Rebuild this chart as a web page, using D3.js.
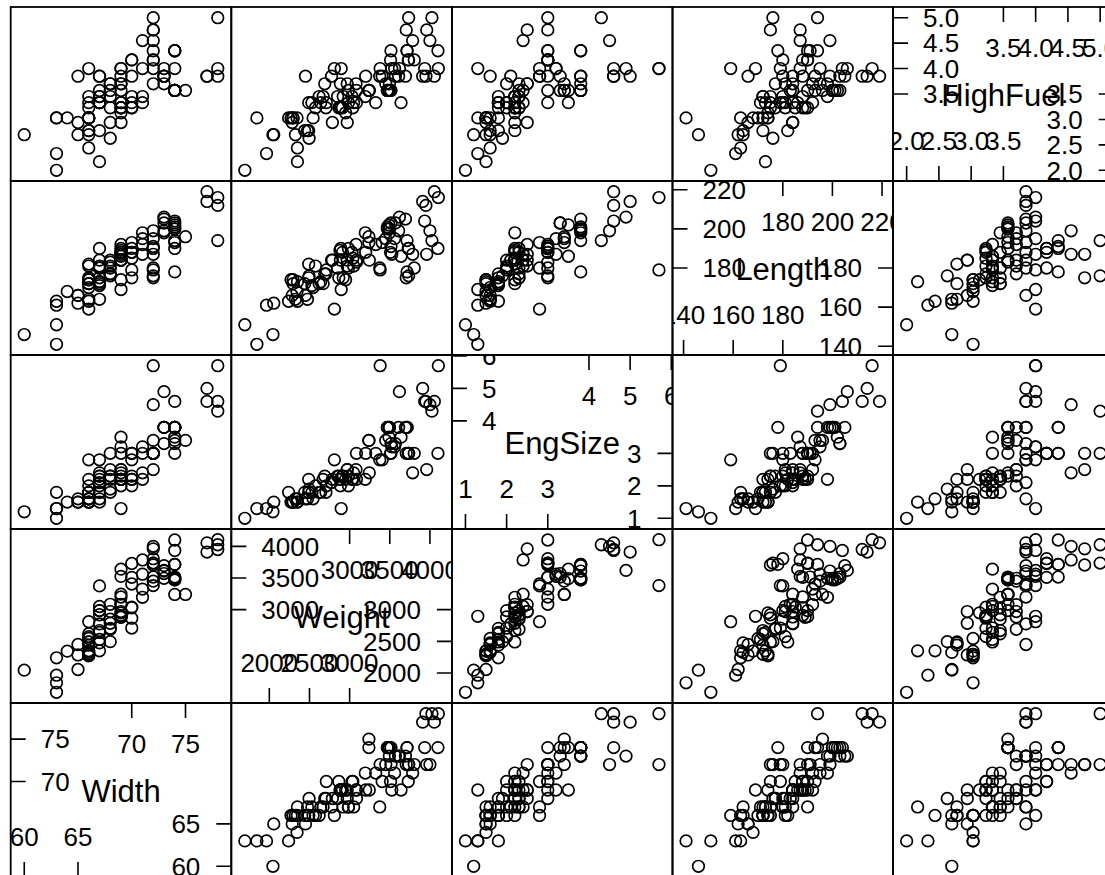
<!DOCTYPE html>
<html>
<head>
<meta charset="utf-8">
<script src="https://cdn.jsdelivr.net/npm/d3@7"></script>
<style>
  body { margin: 0; background: #fff; }
  svg { display: block; font-family: "Liberation Sans", Arial, sans-serif; }
</style>
</head>
<body>
<div id="chart"></div>
<script>
// scatterplot matrix of the car data, variables in diagonal order (bottom-left to top-right)
varNames = ["Width", "Weight", "EngSize", "Length", "HighFuel"];

carWidth = [68,71,67,70,69,69,74,78,73,73, 74,66,68,74,71,74,78,77,72,74,
  68,73,66,67,68,72,69,72,66,74, 63,67,68,68,70,72,71,78,63,67,
  70,67,70,64,66,65,69,72,70,72, 73,77,66,66,69,72,69,67,69,65,
  73,66,70,66,67,74,69,69,69,74, 74,67,66,66,75,72,74,67,68,60,
  66,69,63,65,69,70,71,63,72,67, 66,67,69];

carWeight = [2705,3560,3375,3405,3640,2880,3470,4105,3495,3620, 3935,2490,2785,3240,3195,3715,4025,3910,3380,3515,
  3085,3570,2270,2670,2970,3705,3080,3805,2295,3490, 1845,2530,2690,2850,2710,3735,3325,3950,1695,2475,
  2865,2350,3040,2345,2620,2285,2885,4000,3510,3515, 3695,4055,2325,2440,2970,3735,2895,2920,3525,2450,
  3610,2295,3730,2545,3050,4100,3200,2910,2890,3715, 3470,2640,2350,2575,3240,3450,3495,2775,2495,2045,
  2490,3085,1965,2055,2950,3030,3785,2240,3960,2985, 2810,2985,3245];

engSize = [1.8,3.2,2.8,2.8,3.5,2.2,3.8,5.7,3.8,4.9, 4.6,2.2,2.2,3.4,2.2,3.8,4.3,5.0,5.7,3.3,
  3.0,3.3,1.5,2.2,2.5,3.0,2.5,3.0,1.5,3.5, 1.3,1.8,2.3,2.3,2.0,3.0,3.0,4.6,1.0,1.6,
  2.3,1.5,2.2,1.5,1.8,1.5,2.0,4.5,3.0,3.0, 3.8,4.6,1.6,1.8,2.5,3.0,1.3,2.3,3.2,1.6,
  3.8,1.5,3.0,1.6,2.4,3.0,3.0,2.3,2.2,3.8, 3.8,1.8,1.6,2.0,3.4,3.4,3.8,2.1,1.9,1.2,
  1.8,2.2,1.3,1.5,2.2,2.2,2.4,1.8,2.5,2.0, 2.8,2.3,2.4];

carLength = [177,195,180,193,186,189,200,216,198,206, 204,182,184,193,198,178,194,214,179,203,
  183,203,174,172,181,175,192,180,174,202, 141,171,177,180,179,176,192,212,151,164,
  175,173,185,168,172,166,184,199,188,191, 205,219,164,172,184,190,169,175,187,166,
  199,172,190,170,181,190,188,188,190,194, 201,173,163,181,196,195,200,184,176,146,
  175,184,161,162,174,188,187,163,187,180, 159,190,184];

highFuel = [3.23,4.00,3.85,3.85,3.33,3.23,3.57,4.00,3.70,4.00, 4.00,2.78,2.94,3.57,3.45,4.35,5.00,3.85,4.00,3.57,
  3.57,3.85,3.03,3.45,3.70,4.76,3.70,4.17,3.03,3.57, 3.03,3.33,3.70,3.45,3.33,5.00,3.33,3.85,2.00,2.78,
  3.23,2.17,3.23,3.03,3.45,2.94,3.70,4.55,4.17,4.35, 3.85,3.85,2.70,2.78,2.94,4.17,4.00,3.45,4.00,3.85,
  3.85,3.03,4.17,3.03,3.33,4.35,3.85,3.23,3.23,4.35, 3.57,3.33,2.44,3.23,3.57,3.70,3.57,3.85,2.63,2.70,
  3.33,3.33,2.33,2.70,3.13,3.45,4.55,3.03,4.76,3.33, 4.00,3.57,3.57];

// tick values shown on the diagonal panels: low half (bottom/right), high half (left/top)
lowTicks = [[60,65],[2000,2500,3000],[1,2,3],[140,160,180],[2.0,2.5,3.0,3.5]];
highTicks = [[70,75],[3000,3500,4000],[4,5,6],[180,200,220],[3.5,4.0,4.5,5.0]];
tickFormats = ["d", "d", "d", "d", ".1f"];

columns = [carWidth, carWeight, engSize, carLength, highFuel];

width = 1105;
height = 875;
left0 = 10.7; top0 = 7;
pw = 220.6; ph = 174;
n = varNames.length;

svg = d3.select("#chart").append("svg")
  .attr("width", width)
  .attr("height", height);

svg.append("rect").attr("width", width).attr("height", height).attr("fill", "#fff");

// limits padded by 7% like lattice
limits = columns.map(function (col) {
  let e = d3.extent(col);
  let pad = (e[1] - e[0]) * 0.07;
  return [e[0] - pad, e[1] + pad];
});

defs = svg.append("defs");

for (let r = 0; r < n; r++) {
  for (let c = 0; c < n; c++) {
    let xi = c, yi = n - 1 - r;
    let L = left0 + c * pw, T = top0 + r * ph;
    let R = L + pw, B = T + ph;

    let xScale = d3.scaleLinear().domain(limits[xi]).range([L, R]);
    let yScale = d3.scaleLinear().domain(limits[yi]).range([B, T]);

    let clipId = "clip-" + r + "-" + c;
    defs.append("clipPath").attr("id", clipId)
      .append("rect").attr("x", L).attr("y", T).attr("width", pw).attr("height", ph);

    let g = svg.append("g").attr("clip-path", "url(#" + clipId + ")");

    if (xi === yi) {
      let fmt = d3.format(tickFormats[xi]);
      // variable name
      g.append("text")
        .attr("x", (L + R) / 2)
        .attr("y", (T + B) / 2 + 11.5)
        .attr("text-anchor", "middle")
        .style("font-size", "31px")
        .text(varNames[xi]);

      // left side, high ticks
      highTicks[xi].forEach(function (v) {
        let y = yScale(v);
        g.append("line").attr("x1", L).attr("x2", L + 15).attr("y1", y).attr("y2", y)
          .attr("stroke", "#000").attr("stroke-width", 1.6);
        g.append("text").attr("x", L + 30).attr("y", y + 9.3)
          .style("font-size", "26px").text(fmt(v));
      });
      // top side, high ticks
      highTicks[xi].forEach(function (v) {
        let x = xScale(v);
        g.append("line").attr("x1", x).attr("x2", x).attr("y1", T).attr("y2", T + 15)
          .attr("stroke", "#000").attr("stroke-width", 1.6);
        g.append("text").attr("x", x).attr("y", T + 50).attr("text-anchor", "middle")
          .style("font-size", "26px").text(fmt(v));
      });
      // right side, low ticks
      lowTicks[xi].forEach(function (v) {
        let y = yScale(v);
        g.append("line").attr("x1", R - 15).attr("x2", R).attr("y1", y).attr("y2", y)
          .attr("stroke", "#000").attr("stroke-width", 1.6);
        g.append("text").attr("x", R - 31).attr("y", y + 9.3).attr("text-anchor", "end")
          .style("font-size", "26px").text(fmt(v));
      });
      // bottom side, low ticks
      lowTicks[xi].forEach(function (v) {
        let x = xScale(v);
        g.append("line").attr("x1", x).attr("x2", x).attr("y1", B - 15).attr("y2", B)
          .attr("stroke", "#000").attr("stroke-width", 1.6);
        g.append("text").attr("x", x).attr("y", B - 31).attr("text-anchor", "middle")
          .style("font-size", "26px").text(fmt(v));
      });
    } else {
      let xs = columns[xi], ys = columns[yi];
      g.selectAll("circle")
        .data(d3.range(xs.length))
        .join("circle")
        .attr("cx", i => xScale(xs[i]))
        .attr("cy", i => yScale(ys[i]))
        .attr("r", 5.8)
        .attr("fill", "none")
        .attr("stroke", "#000")
        .attr("stroke-width", 1.7);
    }

    svg.append("rect")
      .attr("x", L).attr("y", T).attr("width", pw).attr("height", ph)
      .attr("fill", "none").attr("stroke", "#000").attr("stroke-width", 1.8);
  }
}
</script>
</body>
</html>
